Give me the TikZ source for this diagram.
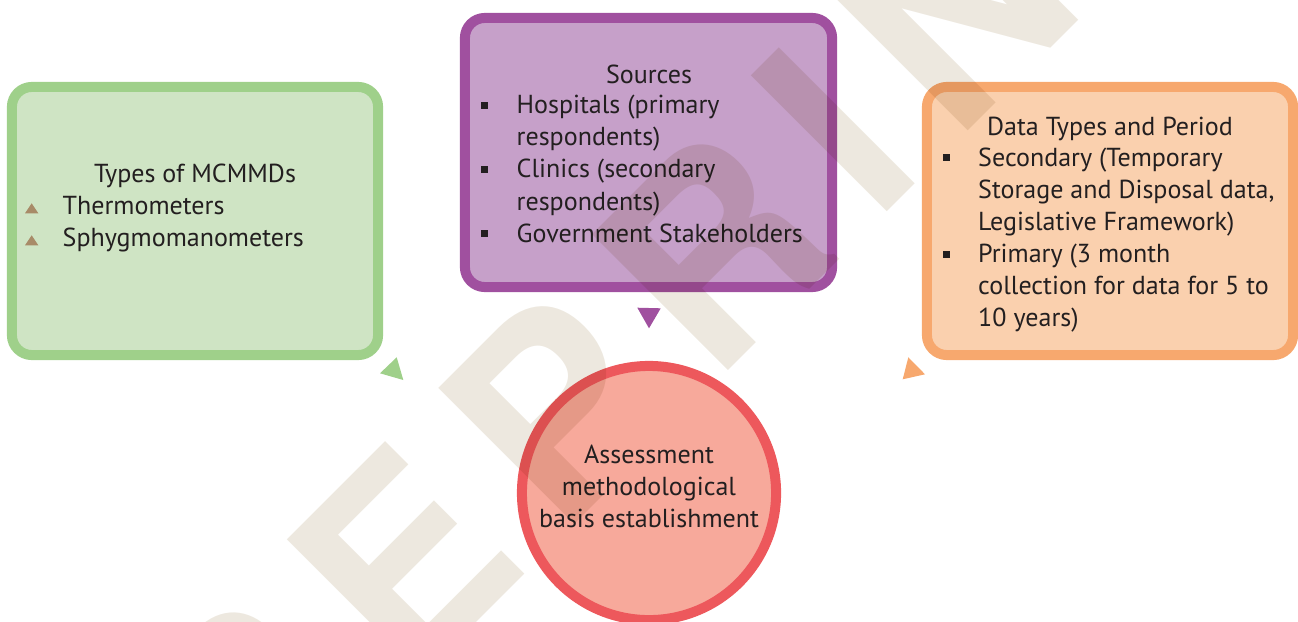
\documentclass[tikz,border=0pt]{standalone}
\usepackage{fontspec}
\setmainfont{PT Sans}
\newfontfamily\wmfont[LetterSpace=15]{TeX Gyre Heros}
\usepackage{tikz}
\usepackage{xcolor}
\usetikzlibrary{positioning}
\definecolor{greenfill}{HTML}{CFE4C4}
\definecolor{greenline}{HTML}{9FD08A}
\definecolor{purplefill}{HTML}{C6A0C9}
\definecolor{purpleline}{HTML}{A0509F}
\definecolor{orangefill}{HTML}{FAD0AE}
\definecolor{orangeline}{HTML}{F7A86E}
\definecolor{circlefill}{HTML}{F7A99B}
\definecolor{circleline}{HTML}{ED585C}
\definecolor{bulletbrown}{HTML}{A88B68}
\definecolor{textdark}{HTML}{231F20}
\definecolor{wmbeige}{HTML}{EDE8DF}
\newcommand{\txtsize}{\fontsize{7.4}{9.15}\selectfont}
\tikzstyle{mybox} = [draw, rectangle, rounded corners=2mm, line width=1mm,
    minimum width=3.66cm, minimum height=2.68cm]
\tikzstyle{mycircle} = [circle, draw=circleline, fill=circlefill, line width=1mm,
    minimum size=2.54cm]
\tikzstyle{boxtitle} = [anchor=base, inner sep=0pt, text=textdark]
\tikzstyle{boxlist} = [anchor=base west, inner sep=0pt, text=textdark]
\tikzstyle{wmark} = [anchor=base west, rotate=45, inner sep=0pt, text=wmbeige,
    font=\wmfont\bfseries\fontsize{75}{80}\selectfont]

\begin{document}
\begin{tikzpicture}[x=0.01cm, y=-0.01cm, font=\txtsize]
\useasboundingbox (0,0) rectangle (1298,621);

% the four blocks
\node [mybox, draw=greenline, fill=greenfill] (types) at (195,221) {};
\node [mybox, draw=purpleline, fill=purplefill, minimum width=3.67cm,
    minimum height=2.69cm] (sources) at (648.5,152.5) {};
\node [mybox, draw=orangeline, fill=orangefill] (datatypes) at (1110,221) {};
\node [mycircle] (assess) at (649,493) {};

% titles
\node [boxtitle] (typestitle) at (195,182) {Types of MCMMDs};
\node [boxtitle] (sourcestitle) at (649,83) {Sources};
\node [boxtitle] (datatitle) at (1110,135) {Data Types and Period};
\node [boxtitle] (assesstext) at (649,463) {\begin{tabular}[t]{@{}c@{}}
    Assessment\\ methodological\\ basis establishment\end{tabular}};

% lists
\node [boxlist] (typeslist) at (62,214) {\begin{tabular}[t]{@{}l@{}}
    Thermometers\\ Sphygmomanometers\end{tabular}};
\node [boxlist] (sourceslist) at (516,113.5) {\begin{tabular}[t]{@{}l@{}}
    Hospitals (primary\\ respondents)\\ Clinics (secondary\\ respondents)\\
    Government Stakeholders\end{tabular}};
\node [boxlist] (datalist) at (977.5,166) {\begin{tabular}[t]{@{}l@{}}
    Secondary (Temporary\\ Storage and Disposal data,\\ Legislative Framework)\\
    Primary (3 month\\ collection for data for 5 to\\ 10 years)\end{tabular}};

% bullets
\foreach \y in {214,246}
    \fill [bulletbrown] (25,\y-0.7) -- (38.3,\y-0.7) -- (31.7,\y-10.7) -- cycle;
\foreach \y in {113.5,177.7,241.9}
    \fill [textdark] (481,\y-11.6) rectangle (487.5,\y-5);
\foreach \y in {166,262.6}
    \fill [textdark] (943,\y-11.6) rectangle (949.5,\y-5);

% arrow heads
\fill [greenline] (396.7,357.3) -- (380,373.3) -- (403.3,380) -- cycle;
\fill [purpleline] (637.3,307.7) -- (660.7,308.3) -- (649,328.3) -- cycle;
\fill [orangeline] (908.3,357.3) -- (902.7,379.3) -- (925,374.3) -- cycle;

% watermark
\begin{scope}[blend mode=multiply]
\node [wmark] (stamp) at (93,1006) {PREPRINT};
\end{scope}
\end{tikzpicture}
\end{document}
